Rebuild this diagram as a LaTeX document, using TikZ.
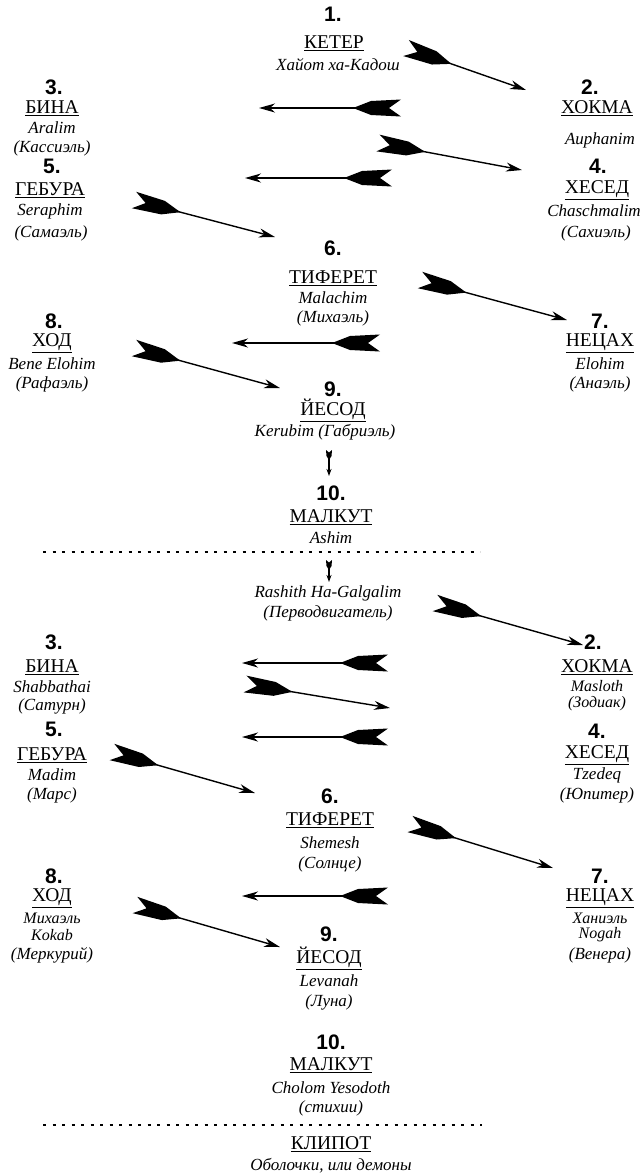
\documentclass[tikz,border=0pt]{standalone}
\usepackage{fontspec}
\setmainfont{Liberation Serif}
\newfontfamily\numfont{Liberation Sans}
\usetikzlibrary{arrows.meta,calc}
\tikzset{
  num/.style={font=\numfont\bfseries\fontsize{21}{21}\selectfont, inner sep=0pt},
  nm/.style={font=\fontsize{19.5}{19.5}\selectfont, inner sep=0pt},
  it/.style={font=\itshape\fontsize{17}{17}\selectfont, inner sep=0pt},
  its/.style={font=\itshape\fontsize{16}{16}\selectfont, inner sep=0pt},
  shaft/.style={line width=1.4pt, -{Stealth[length=16pt,width=9pt,inset=5pt]}},
  smallshaft/.style={line width=1.1pt, -{Stealth[length=7pt,width=5pt,inset=2pt]}},
  sepline/.style={line width=2.8pt, dash pattern=on 3pt off 6.5pt},
}
\newcommand{\featherarrow}[2]{%
  \fill ($(#1)!8.5pt!90:(#2)$) -- ($(#1)!12pt!(#2)$) -- ($(#1)!8.5pt!-90:(#2)$)
    -- ($($(#1)!30pt!(#2)$)!7pt!-90:(#2)$) -- ($(#1)!48pt!(#2)$)
    -- ($($(#1)!30pt!(#2)$)!7pt!90:(#2)$) -- cycle;
  \draw[shaft] ($(#1)!44pt!(#2)$) -- (#2);
}
\newcommand{\smallfeather}[2]{%
  \fill ($(#1)!3pt!90:(#2)$) -- ($(#1)!2.5pt!(#2)$) -- ($(#1)!3pt!-90:(#2)$)
    -- ($($(#1)!6pt!(#2)$)!2.5pt!-90:(#2)$) -- ($(#1)!10pt!(#2)$)
    -- ($($(#1)!6pt!(#2)$)!2.5pt!90:(#2)$) -- cycle;
  \draw[smallshaft] ($(#1)!9pt!(#2)$) -- (#2);
}
\begin{document}
\begin{tikzpicture}[x=1pt,y=-1pt]
\useasboundingbox (0,0) rectangle (644,1176);
% ---------- upper tree ----------
\node[num] (t1n) at (333,14) {1.};
\node[nm]  (t1a) at (334,43) {\underline{КЕТЕР}};
\node[it]  (t1b) at (338,65) {Хайот ха-Кадош};
\node[num] (t3n) at (54,87) {3.};
\node[nm]  (t3a) at (52,108) {\underline{БИНА}};
\node[it]  (t3b) at (52,128) {Aralim};
\node[it]  (t3c) at (52,148) {(Кассиэль)};
\node[num] (t2n) at (590,87) {2.};
\node[nm]  (t2a) at (597,108) {\underline{ХОКМА}};
\node[it]  (t2b) at (600,140) {Auphanim};
\node[num] (t5n) at (52,166) {5.};
\node[nm]  (t5a) at (50,190) {\underline{ГЕБУРА}};
\node[it]  (t5b) at (50,211) {Seraphim};
\node[it]  (t5c) at (51,233) {(Самаэль)};
\node[num] (t4n) at (598,166) {4.};
\node[nm]  (t4a) at (597,190) {\underline{ХЕСЕД}};
\node[it]  (t4b) at (594,211) {Chaschmalim};
\node[it]  (t4c) at (596,233) {(Сахиэль)};
\node[num] (t6n) at (333,248) {6.};
\node[nm]  (t6a) at (333,278) {\underline{ТИФЕРЕТ}};
\node[it]  (t6b) at (333,298) {Malachim};
\node[it]  (t6c) at (333,318) {(Михаэль)};
\node[num] (t8n) at (54,321) {8.};
\node[nm]  (t8a) at (52,343) {\underline{ХОД}};
\node[it]  (t8b) at (52,364) {Bene Elohim};
\node[it]  (t8c) at (52,384) {(Рафаэль)};
\node[num] (t7n) at (600,321) {7.};
\node[nm]  (t7a) at (600,343) {\underline{НЕЦАХ}};
\node[it]  (t7b) at (600,364) {Elohim};
\node[it]  (t7c) at (600,384) {(Анаэль)};
\node[num] (t9n) at (333,389) {9.};
\node[nm]  (t9a) at (333,410) {\underline{ЙЕСОД}};
\node[it]  (t9b) at (325,432) {Kerubim (Габриэль)};
\node[num] (t10n) at (331,493) {10.};
\node[nm]  (t10a) at (331,517) {\underline{МАЛКУТ}};
\node[it]  (t10b) at (331,538) {Ashim};
\coordinate (s1l) at (43,552);
\coordinate (s1r) at (480,552);
\draw[sepline] (s1l) -- (s1r);
% ---------- lower tree ----------
\node[it]  (b1b) at (328,593) {Rashith Ha-Galgalim};
\node[it]  (b1c) at (328,613) {(Перводвигатель)};
\node[num] (b3n) at (54,642) {3.};
\node[nm]  (b3a) at (52,667) {\underline{БИНА}};
\node[it]  (b3b) at (52,687) {Shabbathai};
\node[it]  (b3c) at (52,706) {(Сатурн)};
\node[num] (b2n) at (593,642) {2.};
\node[nm]  (b2a) at (597,667) {\underline{ХОКМА}};
\node[its] (b2b) at (597,686) {Masloth};
\node[its] (b2c) at (597,704) {(Зодиак)};
\node[num] (b5n) at (54,729) {5.};
\node[nm]  (b5a) at (52,755) {\underline{ГЕБУРА}};
\node[it]  (b5b) at (52,775) {Madim};
\node[it]  (b5c) at (52,795) {(Марс)};
\node[num] (b4n) at (597,731) {4.};
\node[nm]  (b4a) at (597,755) {\underline{ХЕСЕД}};
\node[it]  (b4b) at (597,775) {Tzedeq};
\node[it]  (b4c) at (597,795) {(Юпитер)};
\node[num] (b6n) at (330,796) {6.};
\node[nm]  (b6a) at (330,820) {\underline{ТИФЕРЕТ}};
\node[it]  (b6b) at (330,843) {Shemesh};
\node[it]  (b6c) at (330,864) {(Солнце)};
\node[num] (b8n) at (54,876) {8.};
\node[nm]  (b8a) at (52,898) {\underline{ХОД}};
\node[its] (b8b) at (52,918) {Михаэль};
\node[its] (b8c) at (52,935) {Kokab};
\node[it]  (b8d) at (52,955) {(Меркурий)};
\node[num] (b7n) at (600,876) {7.};
\node[nm]  (b7a) at (600,898) {\underline{НЕЦАХ}};
\node[its] (b7b) at (600,918) {Ханиэль};
\node[its] (b7c) at (600,935) {Nogah};
\node[it]  (b7d) at (600,955) {(Венера)};
\node[num] (b9n) at (329,934) {9.};
\node[nm]  (b9a) at (329,958) {\underline{ЙЕСОД}};
\node[it]  (b9b) at (329,981) {Levanah};
\node[it]  (b9c) at (329,1002) {(Луна)};
\node[num] (b10n) at (331,1042) {10.};
\node[nm]  (b10a) at (331,1065) {\underline{МАЛКУТ}};
\node[it]  (b10b) at (331,1088) {Cholom Yesodoth};
\node[it]  (b10c) at (331,1108) {(стихии)};
\coordinate (s2l) at (43,1125);
\coordinate (s2r) at (482,1125);
\draw[sepline] (s2l) -- (s2r);
\node[nm]  (kla) at (331,1144) {\underline{КЛИПОТ}};
\node[it]  (klb) at (331,1166) {Оболочки, или демоны};
% ---------- arrows ----------
\coordinate (a1t) at (406,48);  \coordinate (a1h) at (526,90);
\coordinate (a2t) at (401,108); \coordinate (a2h) at (259,108);
\coordinate (a3t) at (378,143); \coordinate (a3h) at (522,170);
\coordinate (a4t) at (392,178); \coordinate (a4h) at (245,178);
\coordinate (a5t) at (134,200); \coordinate (a5h) at (275,237);
\coordinate (a6t) at (420,280); \coordinate (a6h) at (567,320);
\coordinate (a7t) at (380,343); \coordinate (a7h) at (232,343);
\coordinate (a8t) at (134,348); \coordinate (a8h) at (280,388);
\coordinate (d1t) at (329,450); \coordinate (d1h) at (329,476);
\coordinate (d2t) at (329,560); \coordinate (d2h) at (329,582);
\coordinate (c1t) at (435,603); \coordinate (c1h) at (583,645);
\coordinate (c2t) at (388,663); \coordinate (c2h) at (242,663);
\coordinate (c3t) at (245,684); \coordinate (c3h) at (390,708);
\coordinate (c4t) at (388,737); \coordinate (c4h) at (242,737);
\coordinate (c5t) at (112,752); \coordinate (c5h) at (255,793);
\coordinate (c6t) at (410,824); \coordinate (c6h) at (553,868);
\coordinate (c7t) at (388,896); \coordinate (c7h) at (242,896);
\coordinate (c8t) at (135,905); \coordinate (c8h) at (280,947);
\featherarrow{a1t}{a1h}
\featherarrow{a2t}{a2h}
\featherarrow{a3t}{a3h}
\featherarrow{a4t}{a4h}
\featherarrow{a5t}{a5h}
\featherarrow{a6t}{a6h}
\featherarrow{a7t}{a7h}
\featherarrow{a8t}{a8h}
\smallfeather{d1t}{d1h}
\smallfeather{d2t}{d2h}
\featherarrow{c1t}{c1h}
\featherarrow{c2t}{c2h}
\featherarrow{c3t}{c3h}
\featherarrow{c4t}{c4h}
\featherarrow{c5t}{c5h}
\featherarrow{c6t}{c6h}
\featherarrow{c7t}{c7h}
\featherarrow{c8t}{c8h}
\end{tikzpicture}
\end{document}
